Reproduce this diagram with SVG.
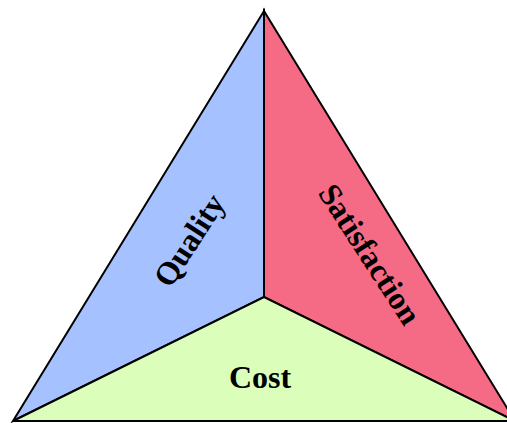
<svg xmlns="http://www.w3.org/2000/svg" width="507" height="423" viewBox="0 0 507 423">
<style>
.face{stroke:#000;stroke-width:2;stroke-linejoin:miter}
.lbl{font-family:"Liberation Serif","Times New Roman",serif;font-weight:bold;font-size:32px;fill:#000;text-anchor:middle;dominant-baseline:central}
</style>
<rect width="507" height="423" fill="#fff"/>
<g id="quality">
<polygon class="face" points="264,11 264,297 13,421" fill="#a6c1ff"/>
<text class="lbl" transform="translate(189,240) rotate(-57)">Quality</text>
</g>
<g id="satisfaction">
<polygon class="face" points="264,11 515,421 264,297" fill="#f56a84"/>
<text class="lbl" transform="translate(370,254) rotate(57)">Satisfaction</text>
</g>
<g id="cost">
<polygon class="face" points="13,421 264,297 515,421" fill="#dbffbb"/>
<text class="lbl" x="260" y="377">Cost</text>
</g>
<g id="connectors"></g>
</svg>
